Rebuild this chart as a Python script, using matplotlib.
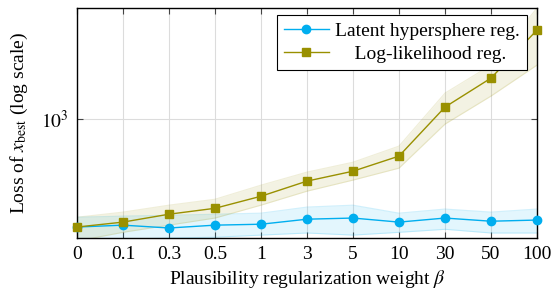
import matplotlib
matplotlib.use("Agg")
import matplotlib.pyplot as plt
import numpy as np

plt.rcParams['font.family'] = ['Liberation Serif', 'DejaVu Serif']
plt.rcParams['mathtext.fontset'] = 'stix'

categories = ["0", "0.1", "0.3", "0.5", "1", "3", "5", "10", "30", "50", "100"]

hyper_mean = [232, 238, 229, 238, 241, 258, 262, 248, 262, 251, 255]
hyper_low = [196, 197, 200, 202, 208, 214, 208, 216, 225, 214, 214]
hyper_high = [265, 269, 272, 276, 280, 304, 312, 280, 296, 284, 296]

ll_mean = [232, 248, 276, 299, 352, 432, 494, 606, 1177, 1742, 3339]
ll_low = [192, 216, 238, 262, 312, 377, 438, 515, 935, 1366, 2078]
ll_high = [265, 284, 312, 338, 409, 488, 558, 694, 1422, 2078, 4500]

cyan = '#00AEEF'
olive = '#999000'

fig = plt.figure(figsize=(5.53, 2.91), dpi=100)
ax = fig.add_axes([77/553, 1-238/291, (537-77)/553, (238-8)/291])

x = np.arange(len(categories))

ax.fill_between(x, hyper_low, hyper_high, color=cyan, alpha=0.11, lw=0, zorder=1)
ax.plot(x, hyper_low, color=cyan, alpha=0.18, lw=0.8, zorder=1)
ax.plot(x, hyper_high, color=cyan, alpha=0.18, lw=0.8, zorder=1)
ax.fill_between(x, ll_low, ll_high, color=olive, alpha=0.11, lw=0, zorder=1)
ax.plot(x, ll_low, color=olive, alpha=0.15, lw=0.8, zorder=1)
ax.plot(x, ll_high, color=olive, alpha=0.15, lw=0.8, zorder=1)

ax.plot(x, hyper_mean, color=cyan, lw=1.0, marker='o', ms=6, mec=cyan, mfc=cyan,
        label='Latent hypersphere reg.', zorder=3, clip_on=False)
ax.plot(x, ll_mean, color=olive, lw=1.0, marker='s', ms=6, mec=olive, mfc=olive,
        label='    Log-likelihood reg.', zorder=3, clip_on=False)

ax.set_yscale('log')
ax.set_ylim(200, 4500)
ax.set_xlim(0, len(categories) - 1)
ax.set_yticks([1000])
ax.set_yticklabels([r'$10^3$'])
ax.yaxis.set_minor_locator(matplotlib.ticker.NullLocator())
ax.set_xticks(x)
ax.set_xticklabels(categories)

ax.grid(True, color='#dcdcdc', lw=0.8, zorder=0)
ax.set_axisbelow(True)
ax.tick_params(direction='in', top=True, right=True, length=4, width=0.8,
               color='#444444', labelsize=14, pad=6)
for s in ax.spines.values():
    s.set_linewidth(1.0)
    s.set_color('black')

ax.set_xlabel(r'Plausibility regularization weight $\beta$', fontsize=14, labelpad=3)
ax.set_ylabel(r'Loss of $x_{\mathrm{best}}$ (log scale)', fontsize=14, labelpad=8)

leg = ax.legend(loc='upper right', fontsize=14, frameon=True, fancybox=False,
                edgecolor='black', framealpha=1, borderpad=0.35, labelspacing=0.3,
                handlelength=2.3, handletextpad=0.35, borderaxespad=0.4,
                bbox_to_anchor=(0.995, 1.003))
leg.get_frame().set_linewidth(0.8)

fig.savefig('out.png', dpi=100)
